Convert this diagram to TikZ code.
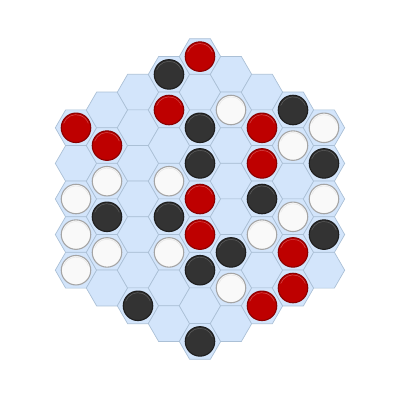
\documentclass[tikz,border=0pt]{standalone}
\usetikzlibrary{shapes.geometric}

\definecolor{cellfill}{HTML}{D3E5FB}
\definecolor{cellline}{HTML}{ABC0D6}
\definecolor{redfill}{HTML}{BE0000}
\definecolor{redrim}{HTML}{8A0000}
\definecolor{redhi}{HTML}{D25050}
\definecolor{blkfill}{HTML}{333333}
\definecolor{blkrim}{HTML}{1E1E1E}
\definecolor{blkhi}{HTML}{5E5E5E}
\definecolor{whtfill}{HTML}{F9F9F9}
\definecolor{whtrim}{HTML}{A5A5A5}
\definecolor{whthi}{HTML}{E6E6E6}

\begin{document}
\begin{tikzpicture}[x=1pt, y=-1pt,
  cell/.style={regular polygon, regular polygon sides=6, minimum size=41.4pt, inner sep=0pt, draw=cellline, fill=cellfill, line width=0.7pt},
  piece/.style={circle, minimum size=29.5pt, inner sep=0pt, line width=1.1pt},
  redp/.style={piece, fill=redfill, draw=redrim, path picture={\draw[redhi, line width=0.5pt] (path picture bounding box.center) ++(160:13.1pt) arc (160:20:13.1pt);}},
  blkp/.style={piece, fill=blkfill, draw=blkrim, path picture={\draw[blkhi, line width=0.5pt] (path picture bounding box.center) ++(160:13.1pt) arc (160:20:13.1pt);}},
  whtp/.style={piece, fill=whtfill, draw=whtrim, path picture={\draw[whthi, line width=0.5pt] (path picture bounding box.center) ++(160:13.1pt) arc (160:20:13.1pt);}}
]
\useasboundingbox (0,0) rectangle (402,402);

% board: columns a..i, rows counted from the top
\foreach \q/\col in {-4/a,-3/b,-2/c,-1/d,0/e,1/f,2/g,3/h,4/i}{
  \pgfmathtruncatemacro{\nrows}{9-abs(\q)}
  \foreach \row in {1,...,\nrows}{
    \node[cell] (\col\row) at ({200+31*\q},{56.6+17.8*abs(\q)+35.6*(\row-1)}) {};
  }
}

% stones
\foreach \pos in {a1,b2,d2,e1,e5,e6,g2,g3,g7,h5,h6}
  \node[redp] (red-\pos) at (\pos) {};
\foreach \pos in {b4,c7,d1,d5,e3,e4,e7,e9,f6,g4,h1,i2,i4}
  \node[blkp] (blk-\pos) at (\pos) {};
\foreach \pos in {a3,a4,a5,b3,b5,d4,d6,f2,f7,g5,h2,h4,i1,i3}
  \node[whtp] (wht-\pos) at (\pos) {};
\end{tikzpicture}
\end{document}
